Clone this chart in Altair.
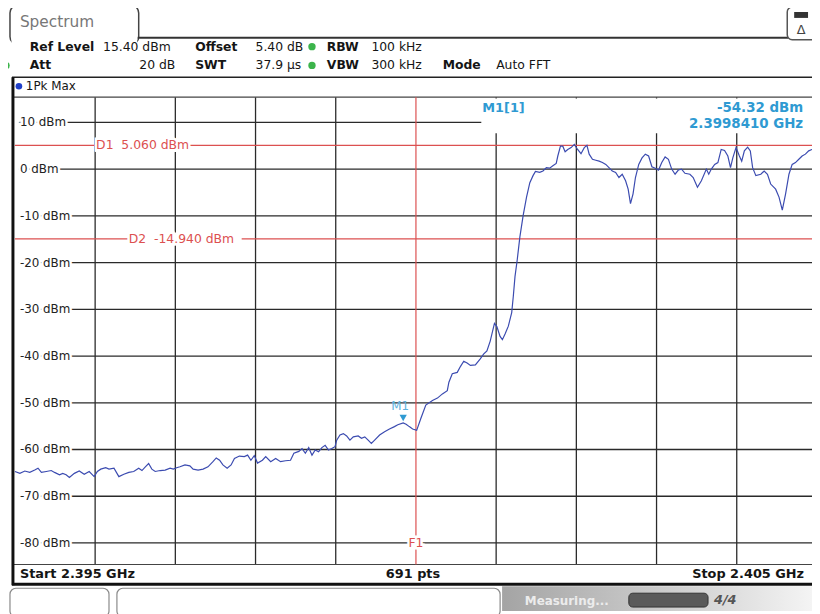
import altair as alt
import pandas as pd

# ---------------- data ----------------
# frequency offset from start (2.395 GHz) in MHz, and trace level in dBm (1Pk Max)
offset_mhz = [
    0.000, 0.062, 0.123, 0.185, 0.247, 0.288, 0.330, 0.391, 0.453, 0.494,
    0.556, 0.596, 0.638, 0.679, 0.741, 0.802, 0.864, 0.926, 0.988, 1.028,
    1.070, 1.132, 1.173, 1.235, 1.296, 1.358, 1.420, 1.481, 1.543, 1.584,
    1.626, 1.667, 1.707, 1.749, 1.811, 1.873, 1.935, 1.975, 2.016, 2.058,
    2.120, 2.181, 2.222, 2.284, 2.346, 2.407, 2.469, 2.510, 2.552, 2.593,
    2.646, 2.695, 2.737, 2.799, 2.860, 2.901, 2.942, 2.984, 3.025, 3.086,
    3.127, 3.189, 3.251, 3.312, 3.374, 3.436, 3.478, 3.540, 3.580, 3.621,
    3.663, 3.704, 3.744, 3.786, 3.827, 3.868, 3.910, 3.951, 3.991, 4.012,
    4.053, 4.095, 4.136, 4.177, 4.219, 4.280, 4.321, 4.362, 4.404, 4.444,
    4.485, 4.547, 4.609, 4.670, 4.732, 4.774, 4.841, 4.877, 4.917, 4.959,
    5.009, 5.062, 5.123, 5.206, 5.268, 5.330, 5.391, 5.411, 5.453, 5.515,
    5.556, 5.596, 5.638, 5.679, 5.741, 5.802, 5.843, 5.885, 5.926, 5.979,
    6.009, 6.049, 6.078, 6.111, 6.152, 6.194, 6.214, 6.235, 6.263, 6.296,
    6.337, 6.379, 6.420, 6.460, 6.490, 6.543, 6.584, 6.626, 6.667, 6.707,
    6.749, 6.769, 6.802, 6.831, 6.860, 6.893, 6.935, 6.975, 7.016, 7.058,
    7.099, 7.132, 7.160, 7.201, 7.243, 7.284, 7.325, 7.367, 7.407, 7.448,
    7.490, 7.531, 7.572, 7.614, 7.646, 7.675, 7.707, 7.737, 7.778, 7.819,
    7.860, 7.901, 7.942, 7.984, 8.025, 8.065, 8.107, 8.148, 8.189, 8.231,
    8.272, 8.312, 8.354, 8.416, 8.457, 8.510, 8.559, 8.621, 8.651, 8.683,
    8.725, 8.765, 8.806, 8.848, 8.889, 8.922, 8.951, 8.991, 9.033, 9.062,
    9.095, 9.136, 9.169, 9.198, 9.238, 9.300, 9.342, 9.383, 9.423, 9.485,
    9.527, 9.568, 9.609, 9.651, 9.691, 9.732, 9.774, 9.815, 9.856, 9.897,
    9.938, 10.000,
]
level_dbm = [
    -64.7, -65.1, -64.6, -64.9, -64.4, -64.0, -64.9, -64.7, -64.5, -64.9,
    -65.4, -65.1, -65.4, -66.0, -65.1, -64.6, -65.3, -64.7, -65.8, -64.7,
    -64.2, -63.9, -64.2, -64.0, -65.8, -65.3, -64.9, -64.7, -64.0, -64.5,
    -63.7, -63.0, -64.2, -64.7, -64.5, -64.4, -64.0, -64.2, -63.9, -63.7,
    -63.3, -63.5, -64.2, -64.4, -64.2, -63.7, -62.6, -61.8, -62.3, -63.3,
    -64.0, -63.3, -61.9, -61.4, -61.5, -61.2, -62.3, -61.3, -62.9, -62.3,
    -61.5, -62.6, -61.9, -62.6, -62.4, -62.3, -60.8, -60.4, -59.8, -60.8,
    -59.6, -61.2, -60.1, -60.5, -59.6, -59.1, -60.1, -59.8, -59.4, -58.0,
    -56.9, -56.6, -57.1, -58.0, -57.3, -57.1, -57.6, -57.3, -58.0, -58.7,
    -58.0, -56.9, -56.2, -55.6, -55.1, -54.7, -54.3, -54.6, -55.1, -55.6,
    -55.9, -53.3, -50.5, -49.5, -49.0, -48.1, -47.4, -45.6, -43.8, -43.5,
    -42.2, -41.1, -41.5, -42.0, -41.9, -40.6, -39.6, -38.9, -36.8, -33.0,
    -33.7, -35.8, -36.5, -35.3, -33.6, -30.7, -27.2, -23.0, -19.4, -14.5,
    -9.9, -6.0, -2.9, -1.4, -0.5, -0.7, -0.4, 0.3, 0.2, 0.7,
    1.2, 2.8, 4.9, 4.9, 3.7, 4.2, 4.6, 5.3, 4.2, 3.3,
    4.6, 5.1, 3.2, 2.1, 1.9, 1.7, 1.4, 1.0, 0.3, -0.4,
    -0.7, -1.8, -1.1, -2.5, -4.3, -7.4, -5.3, -1.8, 1.0, 2.4,
    3.2, 2.8, 0.5, 0.2, -0.2, 1.4, 2.6, 2.1, 0.0, -1.1,
    -0.2, 0.0, -0.9, -1.1, -1.8, -3.9, -2.5, 0.0, -1.1, 0.0,
    1.0, 1.4, 4.2, 4.0, 2.8, 0.3, 2.4, 4.6, 2.8, 1.7,
    3.9, 4.7, 3.9, 0.3, -1.4, -1.1, -0.4, -1.1, -3.2, -4.3,
    -6.0, -8.8, -5.3, -1.1, 1.0, 1.4, 2.1, 2.8, 3.2, 3.9,
    4.2, 4.5,
]
grid_dbm = [10, 0, -10, -20, -30, -40, -50, -60, -70, -80]
grid_labels = ["10 dBm", "0 dBm", "-10 dBm", "-20 dBm", "-30 dBm",
               "-40 dBm", "-50 dBm", "-60 dBm", "-70 dBm", "-80 dBm"]
vgrid_mhz = [1, 2, 3, 4, 6, 7, 8, 9]
d_line_dbm = [5.06, -14.94]
d_line_text = ["D1\u00a0\u00a05.060 dBm", "D2\u00a0\u00a0-14.940 dBm"]
f1_mhz = [5.0]
m1_mhz = [4.841]
m1_dbm = [-54.32]

ref_level = 15.4
y_min = ref_level - 100.0

# ---------------- chart ----------------
FONT = "DejaVu Sans"
RED = "#dc5050"
MBLUE = "#2f9ad2"
XS = alt.Scale(domain=[0, 10], range=[7, 817])
YS = alt.Scale(domain=[y_min, ref_level], range=[559, 87])

ONE = pd.DataFrame({"k": [0]})
trace = pd.DataFrame({"offset": offset_mhz, "dbm": level_dbm})
hgrid = pd.DataFrame({"dbm": grid_dbm, "label": grid_labels})
vgrid = pd.DataFrame({"offset": vgrid_mhz})
dlines = pd.DataFrame({"dbm": d_line_dbm, "label": d_line_text})
f1 = pd.DataFrame({"offset": f1_mhz, "dbm": [-80]})
m1 = pd.DataFrame({"offset": m1_mhz, "dbm": m1_dbm})


def X(f="offset"):
    return alt.X(f"{f}:Q", scale=XS, axis=None)


def Y(f="dbm"):
    return alt.Y(f"{f}:Q", scale=YS, axis=None)


def T(s, x, y, size=12.5, weight="normal", color="#151515", align="left", **kw):
    return alt.Chart(ONE).mark_text(
        text=s, align=align, baseline="middle", fontSize=size,
        fontWeight=weight, color=color, font=FONT, **kw
    ).encode(x=alt.value(x), y=alt.value(y))


def R(x1, x2, y1, y2, fill="white", stroke=None, sw=1.0, r=0):
    kw = dict(fill=fill, cornerRadius=r)
    if stroke:
        kw.update(stroke=stroke, strokeWidth=sw)
    return alt.Chart(ONE).mark_rect(**kw).encode(
        x=alt.value(x1), x2=alt.value(x2), y=alt.value(y1), y2=alt.value(y2))


def L(x1, x2, y1, y2, color="#222", w=1.0):
    return alt.Chart(ONE).mark_rule(color=color, strokeWidth=w).encode(
        x=alt.value(x1), x2=alt.value(x2), y=alt.value(y1), y2=alt.value(y2))


def DOT(x, y, color, size=55):
    return alt.Chart(ONE).mark_point(shape="circle", filled=True, opacity=1,
                                     size=size, color=color).encode(
        x=alt.value(x), y=alt.value(y))


layers = []

# status bar at the bottom
grad = alt.LinearGradient(gradient="linear", x1=0, x2=1, y1=0, y2=0,
                          stops=[alt.GradientStop(color="#a4a4a4", offset=0),
                                 alt.GradientStop(color="#d2d2d2", offset=0.6),
                                 alt.GradientStop(color="#f4f4f4", offset=1)])
layers += [
    alt.Chart(ONE).mark_rect(color=grad).encode(
        x=alt.value(499), x2=alt.value(812), y=alt.value(581), y2=alt.value(606)),
    R(2, 102, 583, 612, stroke="#8a8a8a", sw=1.2, r=6),
    R(110, 497, 583, 612, stroke="#8a8a8a", sw=1.2, r=6),
    T("Measuring...", 522, 596, size=12, weight="bold", color="#ececec"),
    R(627, 707, 588, 602, fill="#5a5a5a", stroke="#333", sw=1, r=4),
    T("4/4", 713, 595, size=13, weight="bold", color="#555", fontStyle="italic"),
]

# spectrum tab and icon
layers += [
    R(2, 132, -6, 34, stroke="#444", sw=1.5, r=8),
    R(3.5, 130.5, 26, 36),
    L(131, 788, 27, 27, "#333", 2),
    T("Spectrum", 12, 11, size=15.5, color="#777"),
    R(787, 817, -4, 29, stroke="#555", sw=1.5, r=5),
    R(794, 808, 1, 7, fill="#333"),
    T("\u0394", 801, 19, size=13, color="#444", align="center"),
]

# header parameter rows
layers += [
    T("Ref Level", 22, 36, weight="bold"),
    T("15.40 dBm", 96, 36),
    T("Offset", 189, 36, weight="bold"),
    T("5.40 dB", 250, 36),
    DOT(307, 36, "#3cb44b"),
    T("RBW", 322, 36, weight="bold"),
    T("100 kHz", 367, 36),
    DOT(-2, 55, "#3cb44b"),
    T("Att", 22, 55, weight="bold"),
    T("20 dB", 169, 55, align="right"),
    T("SWT", 189, 55, weight="bold"),
    T("37.9 \u00b5s", 250, 55),
    DOT(307, 55, "#3cb44b"),
    T("VBW", 322, 55, weight="bold"),
    T("300 kHz", 367, 55),
    T("Mode", 439, 55, weight="bold"),
    T("Auto FFT", 493, 55),
]

# trace header row
layers += [
    L(4, 817, 67, 67, "#222", 1.5),
    DOT(11, 76, "#1f3fc8", size=45),
    T("1Pk Max", 18, 76, size=12),
]

# grid
layers += [
    alt.Chart(vgrid).mark_rule(color="#2a2a2a", strokeWidth=1.3).encode(
        x=X(), y=alt.value(87), y2=alt.value(559)),
    alt.Chart(hgrid).mark_rule(color="#2a2a2a", strokeWidth=1.3).encode(
        y=Y(), x=alt.value(11), x2=alt.value(817)),
    R(478, 817, 88.5, 123.5),
    L(4, 817, 87, 87, "#444", 1.5),
    L(4, 817, 559, 559, "#444", 1.2),
]

# display lines and frequency line
layers += [
    alt.Chart(dlines).mark_rule(color=RED, strokeWidth=1.2).encode(
        y=Y(), x=alt.value(7), x2=alt.value(817)),
    alt.Chart(f1).mark_rule(color=RED, strokeWidth=1.2).encode(
        x=X(), y=alt.value(87), y2=alt.value(559)),
]

# trace
layers.append(
    alt.Chart(trace).mark_line(color="#3b4bb0", strokeWidth=1.2,
                               interpolate="linear").encode(x=X(), y=Y()))


# labels with white halo
def halo_text(df, enc, color, size, align="left"):
    base = dict(align=align, baseline="middle", fontSize=size, font=FONT)
    h = alt.Chart(df).mark_text(color="white", stroke="white", strokeWidth=5,
                                **base).encode(**enc)
    t = alt.Chart(df).mark_text(color=color, **base).encode(**enc)
    return [h, t]


layers += halo_text(hgrid, dict(y=Y(), x=alt.value(12), text="label:N"),
                    "#222", 12)
# white bands behind the display line labels
layers += [
    alt.Chart(dlines.iloc[[0]]).mark_rule(color="white", strokeWidth=13).encode(
        y=Y(), x=alt.value(88), x2=alt.value(182)),
    alt.Chart(dlines.iloc[[1]]).mark_rule(color="white", strokeWidth=13).encode(
        y=Y(), x=alt.value(121), x2=alt.value(236)),
]
layers += halo_text(dlines.iloc[[0]], dict(y=Y(), x=alt.value(89), text="label:N"),
                    RED, 12.5)
layers += halo_text(dlines.iloc[[1]], dict(y=Y(), x=alt.value(122), text="label:N"),
                    RED, 12.5)
layers += halo_text(f1.assign(label="F1"), dict(x=X(), y=Y(), text="label:N"),
                    RED, 12.5, align="center")

# marker M1
layers += [
    alt.Chart(m1).mark_point(shape="triangle-down", filled=True, opacity=1,
                             size=55, color=MBLUE, yOffset=-5).encode(x=X(), y=Y()),
    alt.Chart(m1).mark_text(text="M1", color="#5fb3de", fontSize=12, font=FONT,
                            align="center", baseline="middle", dx=-3,
                            yOffset=-17).encode(x=X(), y=Y()),
    T("M1[1]", 479, 98, size=13, weight="bold", color=MBLUE),
    T("-54.32 dBm", 803, 98, size=13.5, weight="bold", color=MBLUE, align="right"),
    T("2.3998410 GHz", 803, 114, size=13.5, weight="bold", color=MBLUE, align="right"),
]

# frame and footer
layers += [
    L(5, 5, 67, 580, "#111", 3),
    L(4, 817, 579, 579, "#111", 3),
    T("Start 2.395 GHz", 12, 569, size=13, weight="bold"),
    T("691 pts", 409, 569, size=13, weight="bold", align="center"),
    T("Stop 2.405 GHz", 804, 569, size=13, weight="bold", align="right"),
]

chart = alt.layer(*layers).properties(
    width=812, height=606, padding=0, autosize="none", background="white"
).configure_view(stroke=None)

chart.save("out.html", embed_options={"renderer": "svg", "actions": False})
